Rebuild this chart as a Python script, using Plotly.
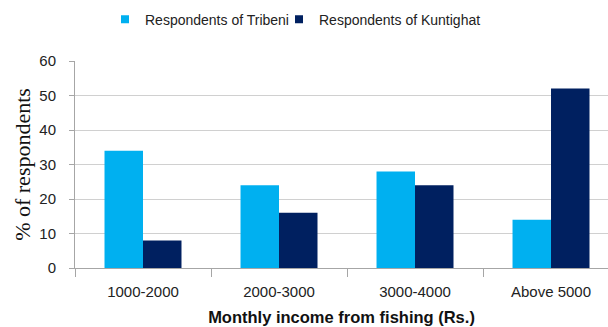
import plotly.graph_objects as go

categories = ["1000-2000", "2000-3000", "3000-4000", "Above 5000"]
tribeni = [34, 24, 28, 14]
kuntighat = [8, 16, 24, 52]
series_names = ["Respondents of Tribeni", "Respondents of Kuntighat"]
colors = ["#00B0F0", "#002060"]
y_ticks = [0, 10, 20, 30, 40, 50, 60]

fig = go.Figure()
for vals, name, col, lg in zip([tribeni, kuntighat], series_names, colors, ["legend", "legend2"]):
    fig.add_trace(go.Bar(x=categories, y=vals, name=name, showlegend=False,
                         marker=dict(color=col, line=dict(width=0))))
    # legend-only entry with a small square swatch
    fig.add_trace(go.Scatter(x=[None], y=[None], mode="markers", name=name, legend=lg,
                             marker=dict(symbol="square", size=8, color=col)))

leg_common = dict(orientation="h", yanchor="middle", y=1.2, xanchor="left",
                  font=dict(size=14, color="#222222"), itemwidth=30,
                  bgcolor="rgba(0,0,0,0)", borderwidth=0)

fig.update_layout(
    width=608, height=327,
    margin=dict(l=75, r=0, t=61, b=59, autoexpand=False),
    paper_bgcolor="white", plot_bgcolor="white",
    barmode="group", bargap=0.434, bargroupgap=0,
    font=dict(family="Liberation Sans, Arial, sans-serif", color="#222222"),
    legend=dict(x=(105 - 75) / 533, **leg_common),
    legend2=dict(x=(279 - 75) / 533, **leg_common),
    xaxis=dict(
        range=[-0.5, 3.419], showgrid=False, automargin=False,
        showline=True, linecolor="#A6A6A6", linewidth=1,
        ticks="outside", tickson="boundaries", ticklen=8, tickcolor="#A6A6A6",
        tickfont=dict(size=15), ticklabelstandoff=10,
        title=dict(text="<b>Monthly income from fishing (Rs.)</b>", font=dict(size=16.5, color="#111111"),
                   standoff=12),
    ),
    yaxis=dict(
        range=[0, 60], tickvals=y_ticks, showgrid=True, gridcolor="#D0D0D0", gridwidth=1,
        showline=True, linecolor="#A6A6A6", linewidth=1, automargin=False,
        ticks="outside", ticklen=5, tickcolor="#A6A6A6",
        tickfont=dict(size=15), ticklabelstandoff=10, zeroline=False,
        title=dict(text="% of respondents", font=dict(family="Liberation Serif, Times New Roman, serif",
                                                      size=22, color="#111111"), standoff=2),
    ),
)

fig.write_html("out.html", config={"displayModeBar": False},
               post_script="document.body.style.margin='0';")
